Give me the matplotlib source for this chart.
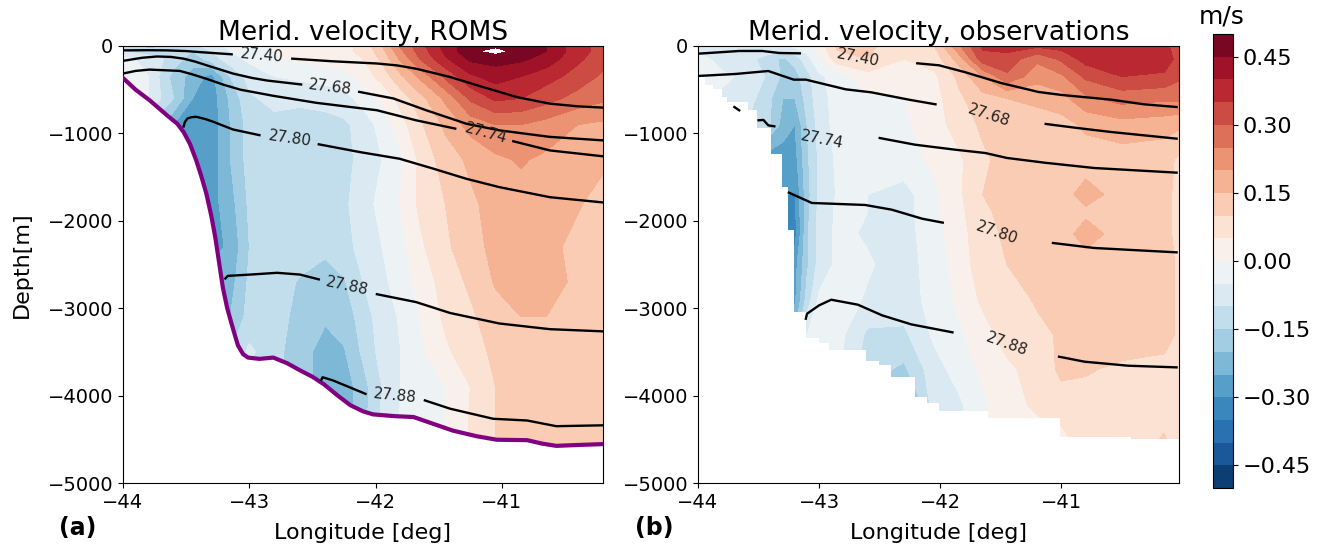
import numpy as np
import matplotlib
matplotlib.use("Agg")
import matplotlib.pyplot as plt

# ROMS section, values (m/s), rows = depth, columns = longitude
roms_lon = [-44, -43.8, -43.6, -43.45, -43.3, -43.15, -43, -42.8, -42.6, -42.4, -42.25, -42.1, -41.95, -41.8, -41.65, -41.45, -41.25, -41.05, -40.85, -40.65, -40.4, -40.2]
roms_depth = [0, -60, -150, -350, -600, -900, -1300, -1800, -2300, -2700, -3100, -3500, -3900, -4300, -4700]
roms_v = [
    [-.13, -.17, -.15, -.12, -.07, -.04, -.02, .01, .02, .03, .04, .06, .15, .26, .33, .42, .48, .49, .47, .45, .37, .33],
    [-.10, -.13, -.14, -.15, -.10, -.05, -.03, 0, .02, .03, .04, .06, .13, .24, .32, .41, .49, .52, .48, .45, .37, .33],
    [-.03, -.07, -.12, -.18, -.13, -.07, -.04, -.01, .01, .02, .03, .05, .11, .21, .30, .39, .46, .47, .46, .43, .36, .32],
    [-.03, -.05, -.17, -.22, -.27, -.15, -.08, -.05, -.04, -.03, -.02, .02, .07, .14, .21, .31, .39, .42, .40, .37, .33, .29],
    [-.03, -.05, -.15, -.25, -.28, -.19, -.11, -.08, -.09, -.08, -.07, -.03, .01, .07, .13, .21, .31, .36, .35, .32, .28, .26],
    [-.10, -.15, -.25, -.27, -.28, -.20, -.13, -.12, -.12, -.12, -.11, -.08, -.03, .03, .09, .16, .22, .25, .25, .23, .20, .19],
    [-.27, -.27, -.27, -.27, -.28, -.20, -.13, -.12, -.12, -.12, -.11, -.09, -.05, -.01, .06, .125, .16, .19, .205, .19, .17, .16],
    [-.27, -.27, -.27, -.27, -.27, -.22, -.14, -.12, -.12, -.12, -.11, -.07, -.035, .005, .06, .10, .14, .17, .18, .175, .155, .13],
    [-.27, -.27, -.27, -.27, -.27, -.24, -.15, -.12, -.125, -.14, -.12, -.08, -.05, -.015, .04, .09, .13, .165, .175, .165, .135, .12],
    [-.22, -.22, -.22, -.22, -.22, -.22, -.14, -.125, -.155, -.17, -.155, -.10, -.06, -.03, .02, .07, .11, .155, .165, .16, .145, .12],
    [-.20, -.20, -.20, -.20, -.20, -.20, -.13, -.13, -.165, -.195, -.175, -.13, -.07, -.045, 0, .06, .09, .13, .15, .15, .135, .12],
    [-.15, -.15, -.15, -.15, -.15, -.15, -.09, -.13, -.185, -.215, -.205, -.14, -.08, -.05, -.01, .04, .08, .11, .125, .125, .125, .125],
    [-.13, -.13, -.13, -.13, -.13, -.13, -.13, -.13, -.18, -.22, -.23, -.17, -.10, -.05, -.03, 0, .05, .10, .12, .12, .12, .12],
    [-.12, -.12, -.12, -.12, -.12, -.12, -.12, -.12, -.18, -.22, -.23, -.17, -.09, -.045, -.03, 0, .055, .10, .12, .12, .12, .12],
    [-.12, -.12, -.12, -.12, -.12, -.12, -.12, -.12, -.18, -.22, -.23, -.17, -.09, -.045, -.03, 0, .055, .10, .12, .12, .12, .12],
]

bathy_lon = [-44, -43.9, -43.79, -43.65, -43.57, -43.52, -43.47, -43.42, -43.38, -43.34, -43.3, -43.27, -43.24, -43.21, -43.175, -43.14, -43.11, -43.09, -43.05, -43.01, -42.92, -42.81, -42.7, -42.6, -42.5, -42.41, -42.3, -42.2, -42.1, -42.02, -41.85, -41.7, -41.55, -41.39, -41.2, -41.04, -40.8, -40.68, -40.57, -40.4, -40.2]
bathy_depth = [-366, -500, -620, -795, -890, -985, -1120, -1310, -1490, -1690, -1950, -2185, -2470, -2760, -3000, -3180, -3330, -3425, -3525, -3565, -3580, -3565, -3630, -3710, -3785, -3870, -4000, -4110, -4180, -4215, -4235, -4245, -4320, -4400, -4465, -4505, -4510, -4550, -4575, -4565, -4555]

# observations section
obs_lon = [-44, -43.8, -43.6, -43.45, -43.3, -43.2, -43.1, -43, -42.85, -42.6, -42.3, -42.05, -41.85, -41.65, -41.45, -41.2, -41, -40.8, -40.5, -40.15, -40.03]
obs_depth = [0, -150, -350, -600, -900, -1300, -1700, -1900, -2150, -2500, -2900, -3300, -3700, -4100, -4600]
obs_v = [
    [-.07, -.07, -.06, -.05, -.05, -.04, -.02, .02, .11, .11, .07, .10, .24, .36, .37, .36, .37, .38, .37, .36, .33],
    [-.03, -.07, -.08, -.12, -.16, -.13, -.07, -.01, .08, .10, .05, .07, .17, .33, .33, .26, .31, .37, .38, .38, .33],
    [-.03, -.04, -.06, -.10, -.16, -.17, -.12, -.06, -.03, .03, .02, .04, .11, .20, .29, .22, .24, .31, .35, .34, .31],
    [-.03, -.06, -.08, -.12, -.20, -.20, -.13, -.07, -.03, -.01, 0, .03, .09, .13, .15, .16, .18, .24, .27, .26, .26],
    [-.10, -.10, -.10, -.12, -.22, -.25, -.15, -.08, -.03, -.02, -.01, .03, .07, .11, .12, .13, .13, .16, .18, .17, .16],
    [-.28, -.28, -.28, -.28, -.28, -.27, -.16, -.09, -.04, -.03, -.02, .01, .04, .09, .12, .125, .12, .125, .125, .12, .09],
    [-.30, -.30, -.30, -.30, -.30, -.30, -.17, -.09, -.045, -.05, -.07, -.01, .04, .10, .12, .13, .13, .17, .13, .12, .08],
    [-.31, -.31, -.31, -.31, -.31, -.31, -.165, -.085, -.04, -.05, -.07, -.015, .035, .09, .115, .125, .13, .14, .13, .12, .08],
    [-.33, -.33, -.33, -.33, -.33, -.32, -.16, -.08, -.04, -.055, -.07, -.02, .03, .08, .11, .12, .13, .17, .13, .12, .08],
    [-.30, -.30, -.30, -.30, -.30, -.27, -.16, -.08, -.04, -.045, -.07, -.03, .02, .08, .10, .12, .125, .13, .13, .125, .09],
    [-.28, -.28, -.28, -.28, -.28, -.26, -.13, -.04, -.03, -.055, -.07, -.035, .01, .06, .08, .105, .12, .125, .13, .125, .09],
    [-.20, -.20, -.20, -.20, -.20, -.20, -.05, -.02, -.03, -.11, -.11, -.04, -.01, .03, .07, .09, .105, .12, .13, .125, .09],
    [-.04, -.04, -.04, -.04, -.04, -.04, -.04, -.04, -.04, -.13, -.16, -.07, -.03, .01, .04, .07, .11, .105, .09, .08, .07],
    [-.14, -.14, -.14, -.14, -.14, -.14, -.14, -.14, -.14, -.14, -.27, -.07, -.06, -.01, .03, .06, .08, .08, .09, .08, .07],
    [-.14, -.14, -.14, -.14, -.14, -.14, -.14, -.14, -.14, -.14, -.27, -.07, -.06, -.01, .03, .02, .02, .07, .08, .11, .08],
]

mask_lon = [-44, -43.94, -43.88, -43.8, -43.76, -43.59, -43.51, -43.4, -43.31, -43.26, -43.21, -43.11, -43.0, -42.92, -42.61, -42.51, -42.41, -42.21, -42.11, -42.01, -41.61, -41.01, -40.43, -40.03]
mask_depth = [-355, -450, -490, -585, -640, -735, -940, -1240, -1615, -2110, -3045, -3340, -3400, -3475, -3605, -3655, -3790, -4015, -4085, -4175, -4260, -4475, -4495, -4545]

# density lines, (lon, depth) pieces broken where the labels sit
roms_lines = [
    ([-44, -43.8, -43.65, -43.5, -43.39, -43.14], [-50, -48, -50, -58, -70, -95]),
    ([-42.66, -42.34, -41.99, -41.83, -41.68, -41.55, -41.41, -41.15, -40.88, -40.62, -40.4, -40.2], [-145, -175, -200, -222, -260, -305, -355, -470, -585, -660, -690, -705]),
    ([-44, -43.85, -43.73, -43.62, -43.52, -43.43, -43.34, -43.13, -42.98, -42.86, -42.59], [-170, -135, -120, -125, -145, -178, -220, -315, -365, -395, -440]),
    ([-42.13, -41.86, -41.6, -41.28, -41.02, -40.62, -40.2], [-525, -600, -735, -890, -965, -1040, -1080]),
    ([-44, -43.9, -43.79, -43.55, -43.45, -43.34, -43.2, -43.07, -42.81, -42.47, -41.99, -41.68, -41.37], [-315, -285, -270, -285, -325, -375, -445, -500, -570, -650, -735, -850, -945]),
    ([-40.91, -40.62, -40.2], [-1090, -1195, -1262]),
    ([-43.52, -43.51, -43.49, -43.46, -43.42, -43.35, -43.28, -43.13, -42.92], [-920, -870, -830, -815, -810, -835, -870, -955, -1020]),
    ([-42.45, -42.12, -41.81, -41.54, -41.28, -41.02, -40.62, -40.2], [-1125, -1215, -1290, -1405, -1520, -1615, -1730, -1790]),
    ([-43.19, -43.17, -42.99, -42.78, -42.6, -42.45], [-2660, -2630, -2615, -2595, -2615, -2670]),
    ([-41.99, -41.68, -41.41, -41.02, -40.62, -40.2], [-2840, -2930, -3055, -3175, -3240, -3265]),
    ([-42.43, -42.42, -42.34, -42.08], [-3820, -3790, -3825, -3980]),
    ([-41.61, -41.41, -41.07, -40.8, -40.57, -40.2], [-4055, -4150, -4265, -4285, -4350, -4340]),
]
obs_lines = [
    ([-44, -43.66, -43.47, -43.33, -43.16], [-88, -57, -57, -80, -84]),
    ([-42.19, -42.01, -41.8, -41.5, -41.19, -41, -40.59, -40.32, -40.05], [-198, -221, -298, -423, -526, -560, -614, -667, -698]),
    ([-44, -43.69, -43.42, -43.21, -43.11, -42.78, -42.57, -42.26, -42.04], [-343, -320, -286, -385, -385, -496, -530, -614, -667]),
    ([-41.13, -40.87, -40.59, -40.05], [-892, -938, -984, -1060]),
    ([-43.7, -43.66], [-698, -736]),
    ([-43.5, -43.46, -43.42, -43.37], [-850, -846, -908, -919]),
    ([-42.5, -42.21, -41.88, -41.63, -41.45, -41.14, -40.73, -40.05], [-1053, -1129, -1186, -1224, -1281, -1335, -1396, -1449]),
    ([-43.25, -43.06, -42.62, -42.4, -42.15, -41.98], [-1678, -1796, -1819, -1873, -1976, -2021]),
    ([-41.07, -40.73, -40.05], [-2254, -2311, -2361]),
    ([-43.11, -43.1, -43, -42.9, -42.68, -42.48, -42.24, -41.9], [-3120, -3063, -2967, -2903, -2960, -3082, -3185, -3276]),
    ([-41.02, -40.81, -40.45, -40.05], [-3555, -3612, -3658, -3677]),
]

# label text, lon, depth, rotation
roms_labels = [("27.40", -42.9, -107, -5), ("27.68", -42.36, -470, -7), ("27.74", -41.13, -1003, -15),
               ("27.80", -42.68, -1060, -8), ("27.88", -42.23, -2745, -12), ("27.88", -41.85, -3997, -6)]
obs_labels = [("27.40", -42.68, -137, -11), ("27.68", -41.6, -800, -18), ("27.74", -42.98, -1068, -11),
              ("27.80", -41.53, -2140, -19), ("27.88", -41.45, -3413, -20)]

levels = np.linspace(-0.5, 0.5, 21)
cbar_ticks = [-0.45, -0.30, -0.15, 0.0, 0.15, 0.30, 0.45]

W, H = 1324.0, 544.0
fig = plt.figure(figsize=(13.24, 5.44), dpi=100)
ax1 = fig.add_axes([123 / W, (H - 483) / H, 480 / W, 437 / H])
ax2 = fig.add_axes([698 / W, (H - 483) / H, 481 / W, 437 / H])
cax = fig.add_axes([1213 / W, (H - 488) / H, 20 / W, 454 / H])

cf = ax1.contourf(roms_lon, roms_depth, np.array(roms_v), levels=levels, cmap="RdBu_r", vmin=-0.5, vmax=0.5)
ax1.fill_between(bathy_lon, bathy_depth, -5000, color="white", lw=0, zorder=1.5)
ax1.plot(bathy_lon, bathy_depth, color="purple", lw=3, zorder=3)

ax2.contourf(obs_lon, obs_depth, np.array(obs_v), levels=levels, cmap="RdBu_r", vmin=-0.5, vmax=0.5)
ax2.fill_between(mask_lon, mask_depth, -5000, step="post", color="white", lw=0, zorder=1.5)

for ax, lines, labels, xmax, title in [
    (ax1, roms_lines, roms_labels, -40.2, "Merid. velocity, ROMS"),
    (ax2, obs_lines, obs_labels, -40.03, "Merid. velocity, observations"),
]:
    for lon, dep in lines:
        ax.plot(lon, dep, color="black", lw=1.7, zorder=4)
    for txt, lon, dep, rot in labels:
        ax.text(lon, dep, txt, fontsize=11, rotation=rot, ha="center", va="center", color="#222222", zorder=5)
    ax.set_xlim(-44, xmax)
    ax.set_ylim(-5000, 0)
    ax.set_xticks([-44, -43, -42, -41])
    ax.set_yticks([0, -1000, -2000, -3000, -4000, -5000])
    ax.tick_params(labelsize=14)
    ax.set_xlabel("Longitude [deg]", fontsize=16, labelpad=8)
    ax.set_title(title, fontsize=19, pad=4)

ax1.set_ylabel("Depth[m]", fontsize=16)
ax1.yaxis.set_label_coords(-0.19, 0.5)

cb = fig.colorbar(cf, cax=cax, ticks=cbar_ticks)
cb.ax.tick_params(labelsize=16)
cb.ax.set_yticklabels(["\u22120.45", "\u22120.30", "\u22120.15", "0.00", "0.15", "0.30", "0.45"])
fig.text(1222 / W, (H - 16) / H, "m/s", fontsize=18, ha="center", va="center")

fig.text(59 / W, (H - 528) / H, "(a)", fontsize=17, fontweight="bold", ha="left", va="center")
fig.text(635 / W, (H - 528) / H, "(b)", fontsize=17, fontweight="bold", ha="left", va="center")

fig.savefig("out.png", dpi=100)
